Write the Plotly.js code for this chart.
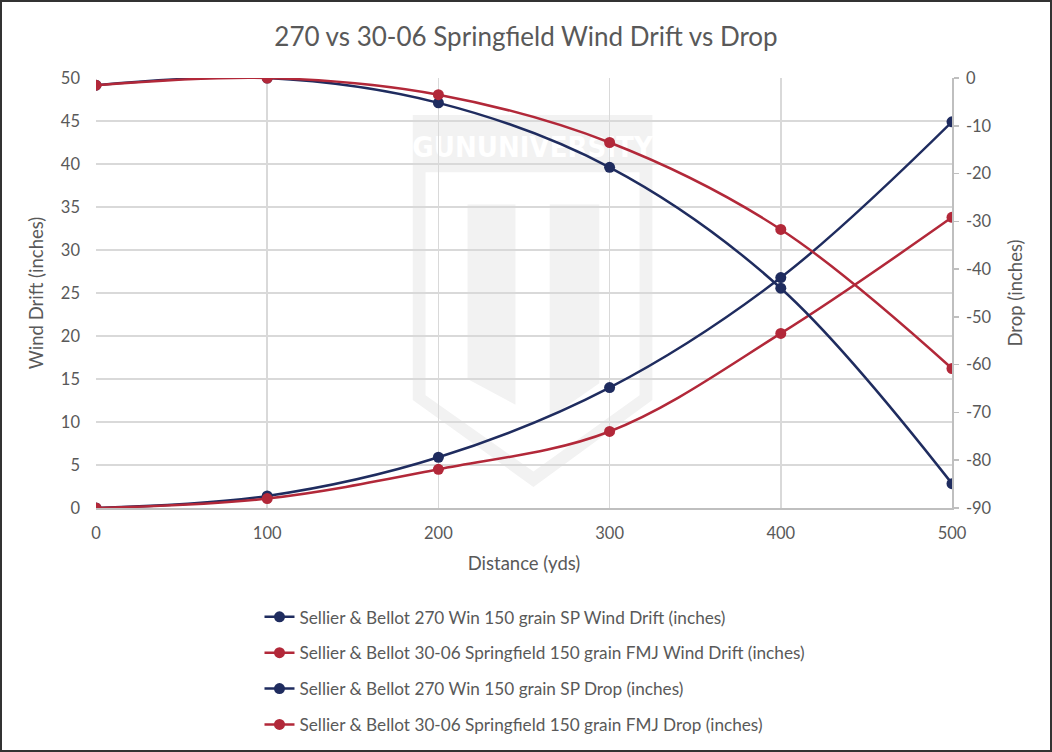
<!DOCTYPE html>
<html>
<head>
<meta charset="utf-8">
<script src="https://cdn.plot.ly/plotly-3.0.1.min.js"></script>
<style>
  html, body { margin: 0; padding: 0; background: #fff; }
  #frame { width: 1052px; height: 752px; box-sizing: border-box; border: 2px solid #333; }
  #chart { width: 1048px; height: 748px; }
</style>
</head>
<body>
<div id="frame"><div id="chart"></div></div>
<script>
// distances (yds)
var distance = [0, 100, 200, 300, 400, 500];

// wind drift (inches), left axis
var drift270 = [0, 1.4, 5.9, 14.0, 26.8, 44.9];
var drift3006 = [0, 1.1, 4.5, 8.9, 20.3, 33.8];

// drop (inches), right axis
var drop270 = [-1.5, 0, -5.2, -18.7, -44.0, -84.9];
var drop3006 = [-1.5, 0, -3.5, -13.5, -31.7, -60.8];

// right axis tick labels (plain hyphen like the original)
var dropTicks = [0, -10, -20, -30, -40, -50, -60, -70, -80, -90];
var dropTickText = ["0", "-10", "-20", "-30", "-40", "-50", "-60", "-70", "-80", "-90"];

var names = [
  "Sellier & Bellot 270 Win 150 grain SP Wind Drift (inches)",
  "Sellier & Bellot 30-06 Springfield 150 grain FMJ Wind Drift (inches)",
  "Sellier & Bellot 270 Win 150 grain SP Drop (inches)",
  "Sellier & Bellot 30-06 Springfield 150 grain FMJ Drop (inches)"
];

var navy = "#1f2c5f", red = "#b22839";
var txt = "#595959", grid = "#d9d9d9";
var font = "Lato, 'Noto Sans', sans-serif";

function series(y, i, color, axis) {
  return {
    x: distance, y: y, name: names[i], yaxis: axis,
    type: "scatter", mode: "lines+markers",
    line: { color: color, width: 2.5, shape: "spline", smoothing: 1 },
    marker: { color: color, size: 11 },
    legendgroup: "g" + i
  };
}

var plotdata = [
  series(drift270, 0, navy, "y"),
  series(drift3006, 1, red, "y"),
  series(drop270, 2, navy, "y2"),
  series(drop3006, 3, red, "y2")
];

// faint logo watermark behind the grid
var wm = "#f2f2f2";
var layout = {
  width: 1048, height: 748,
  margin: { l: 94, r: 98, t: 76, b: 242, autoexpand: false },
  paper_bgcolor: "#fff", plot_bgcolor: "rgba(0,0,0,0)",
  font: { family: font, color: txt, size: 16.5 },
  title: { text: "270 vs 30-06 Springfield Wind Drift vs Drop", font: { size: 26, color: txt }, x: 0.5, y: 0.953, yanchor: "middle" },
  showlegend: true,
  legend: {
    orientation: "v", x: 0.191, xanchor: "left", y: -0.212, yanchor: "top",
    traceorder: "grouped", tracegroupgap: 10.5, font: { size: 17.2, color: txt }
  },
  xaxis: {
    range: [0, 500], dtick: 100, tick0: 0,
    showgrid: true, gridcolor: grid, gridwidth: 1.6,
    showline: true, linecolor: "#bfbfbf", linewidth: 1.6,
    zeroline: false, ticks: "", ticklabelstandoff: 10,
    title: { text: "Distance (yds)", font: { size: 18.5, color: txt }, standoff: 14 }
  },
  yaxis: {
    range: [0, 50], dtick: 5, tick0: 0,
    showgrid: true, gridcolor: grid, gridwidth: 1.6,
    showline: false, zeroline: false, ticks: "", ticklabelstandoff: 15,
    title: { text: "Wind Drift (inches)", font: { size: 18.5, color: txt }, standoff: 12 }
  },
  yaxis2: {
    overlaying: "y", side: "right",
    range: [-90, 0], tickvals: dropTicks, ticktext: dropTickText,
    showgrid: false, zeroline: false,
    showline: true, linecolor: "#bfbfbf", linewidth: 1.6,
    ticks: "outside", ticklen: 5, tickcolor: "#bfbfbf", tickwidth: 1.5,
    ticklabelstandoff: 4,
    title: { text: "Drop (inches)", font: { size: 18.5, color: txt }, standoff: 18 }
  },
  shapes: [
    { type: "path", xref: "paper", yref: "paper", layer: "below", fillcolor: wm, line: { width: 0 },
      path: "M 0.370 0.914 L 0.650 0.914 L 0.650 0.251 L 0.511 0.049 L 0.370 0.251 Z" },
    { type: "path", xref: "paper", yref: "paper", layer: "below", fillcolor: "#fff", line: { width: 0 },
      path: "M 0.385 0.781 L 0.635 0.781 L 0.635 0.262 L 0.511 0.085 L 0.385 0.262 Z" },
    { type: "path", xref: "paper", yref: "paper", layer: "below", fillcolor: wm, line: { width: 0 },
      path: "M 0.434 0.706 L 0.490 0.706 L 0.490 0.240 L 0.434 0.300 Z" },
    { type: "path", xref: "paper", yref: "paper", layer: "below", fillcolor: wm, line: { width: 0 },
      path: "M 0.530 0.706 L 0.588 0.706 L 0.588 0.290 L 0.530 0.210 Z" },
    { type: "rect", xref: "paper", yref: "paper", layer: "below", x0: 0.38, x1: 0.64, y0: 0.80, y1: 0.89,
      fillcolor: "rgba(0,0,0,0)", line: { width: 0 },
      label: { text: "<b>GUNUNIVERSITY</b>", textposition: "middle center",
        font: { family: "'DejaVu Sans Condensed', 'Liberation Sans Narrow', sans-serif", size: 29, color: "#fff" } } }
  ]
};

Plotly.newPlot("chart", plotdata, layout, { staticPlot: true, displayModeBar: false });
</script>
</body>
</html>
